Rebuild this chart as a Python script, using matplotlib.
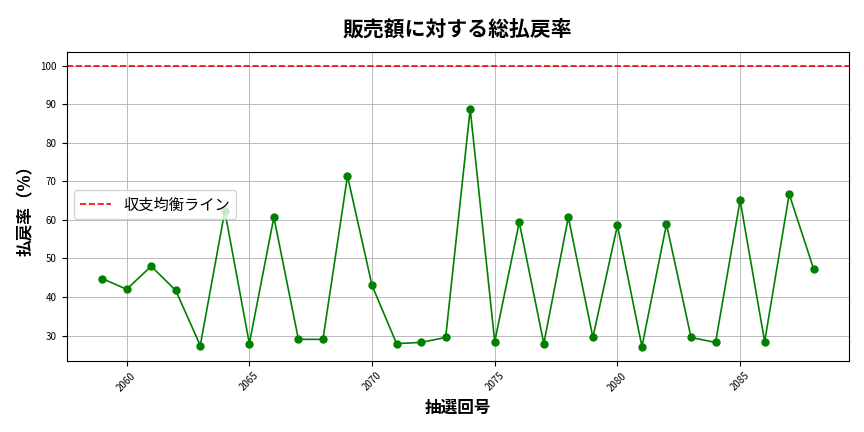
import matplotlib
matplotlib.use("Agg")
import matplotlib.pyplot as plt

plt.rcParams['font.family'] = ['Noto Sans CJK JP', 'DejaVu Sans']

draws = list(range(2059, 2089))
rates = [44.8, 42.0, 48.0, 41.7, 27.4, 62.3, 27.9, 60.7, 29.0, 29.0,
         71.4, 43.0, 27.9, 28.2, 29.5, 88.8, 28.4, 59.4, 27.9, 60.7,
         29.5, 58.6, 27.1, 58.9, 29.5, 28.2, 65.1, 28.4, 66.7, 47.2]

fig, ax = plt.subplots(figsize=(8.64, 4.32), dpi=100)
ax.plot(draws, rates, color='green', marker='o', markersize=5, linewidth=1.2)
ax.axhline(100, color='red', linestyle='--', linewidth=1.2, label='収支均衡ライン')
ax.set_title('販売額に対する総払戻率', fontsize=15, pad=12, fontweight='bold')
ax.set_xlabel('抽選回号', fontsize=12, fontweight='bold')
ax.set_ylabel('払戻率（%）', fontsize=12, fontweight='bold')
ax.grid(True, color='#b0b0b0', linewidth=0.6)
ax.tick_params(axis='both', labelsize=7)
plt.setp(ax.get_xticklabels(), rotation=45)
ax.legend(loc='center left', bbox_to_anchor=(0.0, 0.505), fontsize=11)
fig.subplots_adjust(left=0.077, right=0.983, top=0.88, bottom=0.165)
fig.savefig('out.png', dpi=100)
